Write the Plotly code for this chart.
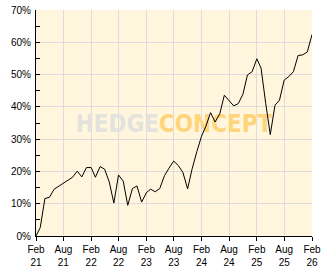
import plotly.graph_objects as go
import pandas as pd

# Monthly performance values (%), Feb 2021 .. Feb 2026
dates = pd.date_range("2021-02-01", "2026-02-01", freq="MS")
values = [
    0.0, 2.6, 11.6, 12.0, 14.5, 15.4, 16.2, 17.4, 18.2, 20.1, 18.3, 21.2,
    21.2, 18.2, 21.5, 20.7, 16.7, 10.2, 18.9, 17.0, 9.5, 14.7, 15.5, 10.5,
    13.4, 14.5, 13.7, 14.7, 18.7, 21.0, 23.2, 21.8, 19.7, 14.6, 20.8, 26.1,
    30.9, 34.0, 38.2, 35.3, 37.9, 43.6, 41.8, 40.3, 41.0, 43.9, 49.9, 50.9,
    54.9, 52.0, 41.0, 31.4, 40.5, 42.1, 48.3, 49.4, 50.9, 55.9, 56.1, 57.0,
    62.4,
]
tick_dates = pd.date_range("2021-02-01", "2026-02-01", freq="6MS")
tick_labels = [f"{d.strftime('%b')}<br>{d.strftime('%y')}" for d in tick_dates]
y_ticks = [0, 10, 20, 30, 40, 50, 60, 70]
y_labels = [f"{v}%" for v in y_ticks]
watermark_a = "HEDGE"
watermark_b = "CONCEPT"

fig = go.Figure()

# watermark drawn first so the line sits on top of it
mid_date = dates[0] + (dates[-1] - dates[0]) / 2
fig.add_trace(go.Scatter(
    x=[mid_date], y=[y_ticks[-1] * 0.485],
    mode="text",
    text=[f'<span style="color:#e4e2dc">{watermark_a}</span>'
          f'<span style="color:#ffd57c">{watermark_b}</span>'],
    textfont=dict(family="DejaVu Sans Condensed", size=24, weight="bold"),
    hoverinfo="skip", showlegend=False,
))

fig.add_trace(go.Scatter(
    x=dates, y=values, mode="lines",
    line=dict(color="black", width=1),
    showlegend=False,
))

tick_font = dict(family="Liberation Sans", size=10, color="black")

fig.update_layout(
    width=332, height=269,
    margin=dict(l=36, r=20, t=10, b=33),
    paper_bgcolor="white",
    plot_bgcolor="#fff6dd",
    xaxis=dict(
        range=[dates[0], dates[-1]],
        tickvals=tick_dates, ticktext=tick_labels,
        showgrid=True, gridcolor="#dcdcdc", gridwidth=1,
        showline=True, linecolor="black", linewidth=1,
        ticks="outside", ticklen=4, tickcolor="black",
        ticklabelstandoff=0, automargin=False,
        tickfont=tick_font, zeroline=False,
    ),
    yaxis=dict(
        range=[0, 70],
        tickvals=y_ticks, ticktext=y_labels,
        showgrid=True, gridcolor="#dcdcdc", gridwidth=1,
        showline=True, linecolor="black", linewidth=1,
        ticks="inside", ticklen=4, tickcolor="black",
        ticklabelstandoff=2, automargin=False,
        minor=dict(dtick=5, tick0=0, ticks="inside", ticklen=4,
                   tickcolor="black", showgrid=False),
        tickfont=tick_font, zeroline=False,
    ),
)

fig.write_html("out.html")
